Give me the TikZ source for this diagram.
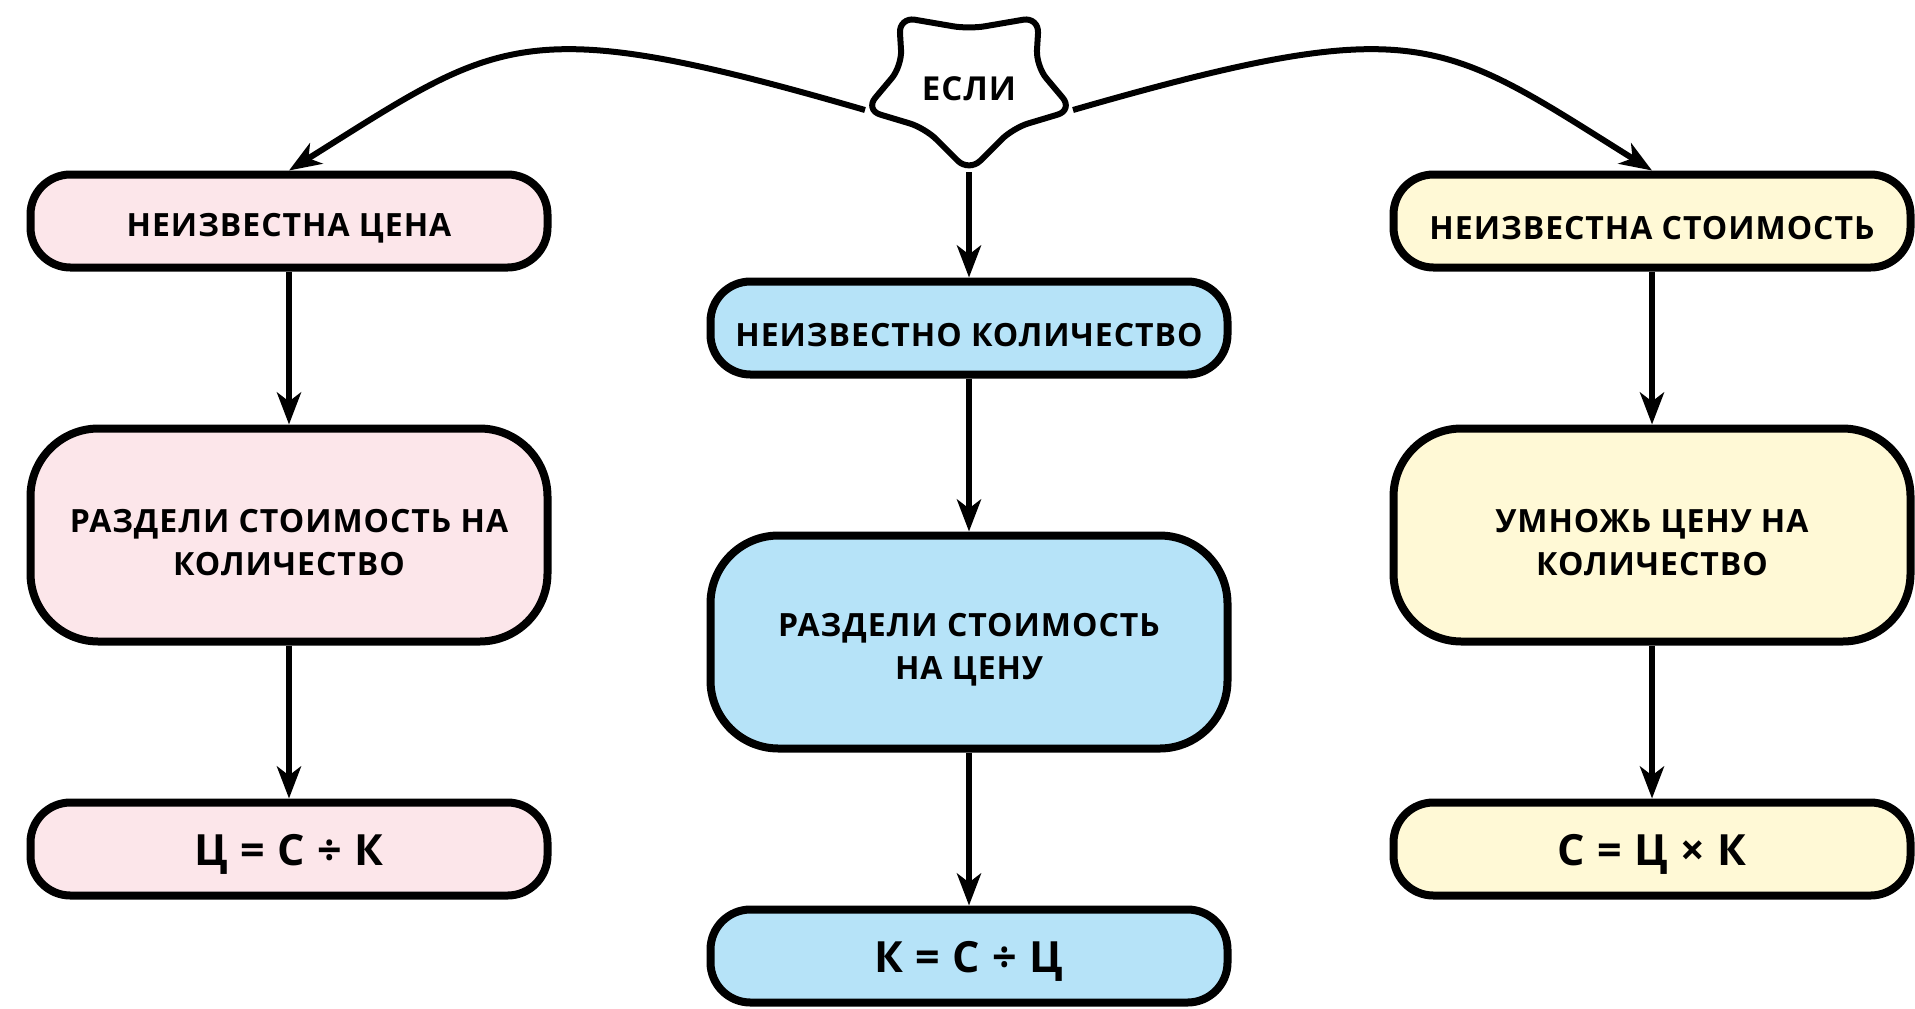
\documentclass[tikz,border=0pt]{standalone}
\usepackage{fontspec}
\setmainfont{Open Sans}[LetterSpace=3]
\usetikzlibrary{positioning,arrows.meta}

\definecolor{pinkfill}{HTML}{FCE6EA}
\definecolor{bluefill}{HTML}{B6E3F8}
\definecolor{yellowfill}{HTML}{FFF9D6}

\begin{document}
\begin{tikzpicture}[x=0.5pt, y=-0.5pt, -{Stealth[length=16pt,width=12pt,inset=4.5pt]},
line width=3pt, node distance =157pt and 340pt, on grid,
box/.style ={rectangle, rounded corners=20pt, draw, line width=4pt,
  minimum width=258.5pt, minimum height=46.5pt, align=center,
  execute at begin node=\rule{0pt}{19pt},
  font=\bfseries\fontsize{16}{21.5}\selectfont},
tall/.style ={box, rounded corners=34pt, minimum height=106.5pt,
  execute at begin node=\rule{0pt}{40.5pt}},
formula/.style ={box, execute at begin node=\rule{0pt}{21pt},
  font=\bfseries\fontsize{21.5}{25}\selectfont}]
\useasboundingbox (0,0) rectangle (1915,1008);
% star
\node[font=\bfseries\fontsize{16.5}{18}\selectfont] (esli) at (969,89) {ЕСЛИ};
\coordinate (esliB) at (969,172);
\coordinate (esliL) at (865,110);
\coordinate (esliR) at (1073,110);
\draw[-, line width=3pt, rounded corners=8pt] (esliB) -- (925,128) -- (esliL)
  -- (902,66) -- (899,17) -- (969,29) -- (1039,17) -- (1036,66) -- (esliR)
  -- (1013,128) -- cycle;
% left column
\node[box, fill=pinkfill] (P) at (289,221) {НЕИЗВЕСТНА ЦЕНА};
\node[tall, fill=pinkfill] (PD) [below = of P] {РАЗДЕЛИ СТОИМОСТЬ НА\\КОЛИЧЕСТВО};
\node[formula, fill=pinkfill] (PF) [below = of PD] {Ц = С ÷ К};
% middle column
\node[box, fill=bluefill] (Q) [below right = 53.5pt and 340pt of P] {НЕИЗВЕСТНО КОЛИЧЕСТВО};
\node[tall, fill=bluefill] (QD) [below = of Q] {РАЗДЕЛИ СТОИМОСТЬ\\НА ЦЕНУ};
\node[formula, fill=bluefill] (QF) [below = of QD] {К = С ÷ Ц};
% right column
\node[box, fill=yellowfill] (S) [right = 681.5pt of P] {НЕИЗВЕСТНА СТОИМОСТЬ};
\node[tall, fill=yellowfill] (SD) [below = of S] {УМНОЖЬ ЦЕНУ НА\\КОЛИЧЕСТВО};
\node[formula, fill=yellowfill] (SF) [below = of SD] {С = Ц × К};
\draw (esliL) .. controls (520,10) and (501,38) .. (P.north);
\draw (esliR) .. controls (1420,10) and (1440,38) .. (S.north);
\draw (esliB) -- (Q);
\draw (P) -- (PD);
\draw (PD) -- (PF);
\draw (Q) -- (QD);
\draw (QD) -- (QF);
\draw (S) -- (SD);
\draw (SD) -- (SF);
\end{tikzpicture}
\end{document}
